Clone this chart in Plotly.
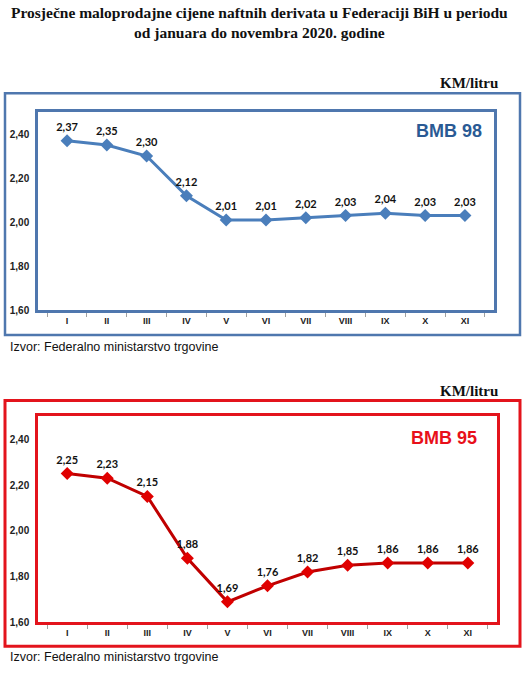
import plotly.graph_objects as go

W, H = 531, 682

months = ["I", "II", "III", "IV", "V", "VI", "VII", "VIII", "IX", "X", "XI"]
bmb98 = [2.37, 2.35, 2.30, 2.12, 2.01, 2.01, 2.02, 2.03, 2.04, 2.03, 2.03]
bmb95 = [2.25, 2.23, 2.15, 1.88, 1.69, 1.76, 1.82, 1.85, 1.86, 1.86, 1.86]
y_ticks = [1.6, 1.8, 2.0, 2.2, 2.4]

title = "Prosječne maloprodajne cijene naftnih derivata u Federaciji BiH u periodu<br>od januara do novembra 2020. godine"
unit = "KM/litru"
source = "Izvor: Federalno ministarstvo trgovine"

BLUE_BOX = "#4F77AE"
BLUE_LINE = "#4A7EBB"
RED_BOX = "#E3141C"
RED_LINE = "#C00000"
RED_MARK = "#E00000"


def px(x):
    return x / W


def py(y):
    return 1 - y / H


def chart_trace(values, xa, ya, line_color, marker_color):
    return go.Scatter(
        x=months, y=values, xaxis=xa, yaxis=ya,
        mode="lines+markers+text",
        line=dict(color=line_color, width=3),
        marker=dict(symbol="diamond", size=10, color=marker_color),
        texttemplate="<b>%{y:.2f}</b>",
        textposition="top center",
        textfont=dict(family="Lato, Arial", size=11, color="#111111"),
        cliponaxis=False,
        showlegend=False,
    )


fig = go.Figure()
fig.add_trace(chart_trace(bmb98, "x", "y", BLUE_LINE, BLUE_LINE))
fig.add_trace(chart_trace(bmb95, "x2", "y2", RED_LINE, RED_MARK))


def xaxis(domain, anchor, color):
    return dict(
        domain=domain, anchor=anchor, type="category",
        showline=True, linecolor=color, linewidth=2.5, mirror=True,
        ticks="outside", tickson="boundaries", ticklen=4, tickcolor="#A0A0A0",
        showgrid=False, zeroline=False,
        tickfont=dict(family="Arial", size=9, color="#222222", weight="bold"),
    )


def yaxis(domain, anchor, color):
    return dict(
        domain=domain, anchor=anchor, range=[1.6, 2.5],
        tickvals=y_ticks, tickformat=".2f",
        showline=True, linecolor=color, linewidth=2.5, mirror=True,
        ticks="", showgrid=False, zeroline=False, ticklabelstandoff=4,
        tickfont=dict(family="Arial", size=10, color="#222222", weight="bold"),
    )


fig.update_layout(
    width=W, height=H,
    margin=dict(l=0, r=0, t=0, b=0),
    paper_bgcolor="white", plot_bgcolor="white",
    separators=",.",
    xaxis=xaxis([px(38), px(494)], "y", BLUE_BOX),
    yaxis=yaxis([py(313), py(113)], "x", BLUE_BOX),
    xaxis2=xaxis([px(38), px(497)], "y2", RED_BOX),
    yaxis2=yaxis([py(628), py(420)], "x2", RED_BOX),
)

fig.add_shape(type="rect", xref="paper", yref="paper",
              x0=px(5), x1=px(520), y0=py(338), y1=py(94),
              line=dict(color=BLUE_BOX, width=2.5))
fig.add_shape(type="rect", xref="paper", yref="paper",
              x0=px(5), x1=px(520), y0=py(652), y1=py(404),
              line=dict(color=RED_BOX, width=3))

serif = "Liberation Serif, DejaVu Serif, serif"
fig.add_annotation(text="<b>" + title + "</b>", xref="paper", yref="paper",
                   x=px(259), y=py(2), xanchor="center", yanchor="top",
                   showarrow=False, align="center",
                   font=dict(family=serif, size=15.5, color="#111111"))
for y in (84, 394):
    fig.add_annotation(text="<b>" + unit + "</b>", xref="paper", yref="paper",
                       x=px(500), y=py(y), xanchor="right", yanchor="middle",
                       showarrow=False, font=dict(family=serif, size=15, color="#111111"))
for y in (350, 663):
    fig.add_annotation(text=source, xref="paper", yref="paper",
                       x=px(8), y=py(y), xanchor="left", yanchor="middle",
                       showarrow=False, font=dict(family="Arial", size=12.5, color="#111111"))

fig.add_annotation(text="<b>BMB 98</b>", xref="paper", yref="paper",
                   x=px(484), y=py(132), xanchor="right", yanchor="middle",
                   showarrow=False, font=dict(family="Arial", size=18, color="#2A5A94"))
fig.add_annotation(text="<b>BMB 95</b>", xref="paper", yref="paper",
                   x=px(479), y=py(442), xanchor="right", yanchor="middle",
                   showarrow=False, font=dict(family="Arial", size=18, color="#E8101A"))

# page body has a default 8px margin; drop it so the figure sits at 0,0
fig.write_html("out.html", config={"displayModeBar": False},
               post_script="document.body.style.margin='0';")
